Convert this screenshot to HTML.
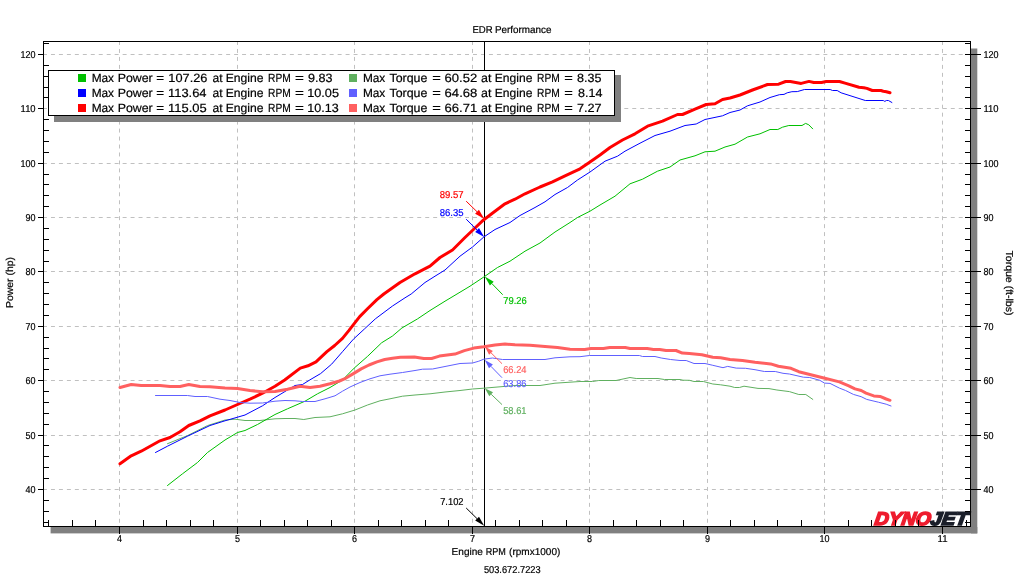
<!DOCTYPE html>
<html lang="en"><head><meta charset="utf-8"><title>EDR Performance</title>
<style>html,body{margin:0;padding:0;background:#fff;overflow:hidden}body{width:1024px;height:576px}svg{display:block}text{font-family:"Liberation Sans",sans-serif;fill:#000;stroke:#000;stroke-width:.2px;text-rendering:geometricPrecision}.s{font-size:10px}.l{font-size:12px}.ax{shape-rendering:crispEdges}.cv{fill:none;stroke-linejoin:round;stroke-linecap:round}</style></head><body>
<svg width="1024" height="576" viewBox="0 0 1024 576">
<rect width="1024" height="576" fill="#fff"/>
<g fill="#808080">
<rect x="50.6" y="527" width="926.7" height="6.4"/>
<rect x="971" y="48.5" width="6.3" height="484.9"/>
</g>
<g stroke="#c0c0c0" stroke-width="1" stroke-dasharray="3.98 3.983" fill="none">
<line x1="43" y1="489.5" x2="970" y2="489.5"/>
<line x1="43" y1="435.5" x2="970" y2="435.5"/>
<line x1="43" y1="380.5" x2="970" y2="380.5"/>
<line x1="43" y1="326.5" x2="970" y2="326.5"/>
<line x1="43" y1="271.5" x2="970" y2="271.5"/>
<line x1="43" y1="217.5" x2="970" y2="217.5"/>
<line x1="43" y1="163.5" x2="970" y2="163.5"/>
<line x1="43" y1="108.5" x2="970" y2="108.5"/>
<line x1="43" y1="54.5" x2="970" y2="54.5"/>
<line x1="119.5" y1="41" x2="119.5" y2="526"/>
<line x1="237.5" y1="41" x2="237.5" y2="526"/>
<line x1="354.5" y1="41" x2="354.5" y2="526"/>
<line x1="472.5" y1="41" x2="472.5" y2="526"/>
<line x1="589.5" y1="41" x2="589.5" y2="526"/>
<line x1="707.5" y1="41" x2="707.5" y2="526"/>
<line x1="824.5" y1="41" x2="824.5" y2="526"/>
<line x1="942.5" y1="41" x2="942.5" y2="526"/>
</g>
<g class="ax"><rect x="484" y="42" width="1" height="484" fill="#000"/></g>
<g class="cv">
<polyline stroke="#60b060" stroke-width="1" points="167.5,443.7 187.5,435.6 207.5,425.6 225.0,420.0 235.0,419.2 245.0,420.5 260.0,420.5 275.0,418.8 285.0,418.5 295.0,418.5 303.8,419.5 315.0,417.5 330.0,416.8 342.5,413.8 355.0,410.0 367.5,405.0 380.0,400.8 390.0,398.8 402.5,396.2 415.0,395.0 430.0,393.8 445.0,392.0 460.0,390.5 472.5,389.0 483.8,388.2 500.0,386.8 515.0,385.5 540.0,385.5 555.0,383.2 570.0,382.2 580.0,381.5 592.5,381.5 598.8,380.5 616.0,380.5 630.0,377.5 636.2,378.5 658.0,378.5 664.4,379.5 680.0,379.5 683.0,380.2 689.4,380.3 694.0,381.5 703.4,381.5 712.8,384.0 720.6,384.8 730.0,386.2 734.7,387.5 739.4,387.5 744.0,386.2 758.0,388.4 769.0,388.6 776.9,390.0 789.4,391.6 798.8,394.5 805.8,394.5 812.8,399.4"/>
<polyline stroke="#00c000" stroke-width="1" points="167.5,485.5 182.5,473.8 197.5,462.5 207.5,452.5 225.0,440.0 237.5,432.5 245.0,430.5 257.5,424.5 275.0,414.5 287.5,408.8 305.0,401.2 317.5,393.8 330.0,387.5 342.5,380.0 354.2,368.1 367.5,356.4 381.6,342.8 392.5,336.0 401.9,328.0 417.5,318.9 430.0,310.5 445.0,301.2 457.0,294.0 470.0,286.2 483.8,277.0 497.5,267.5 510.0,261.2 525.0,251.2 540.0,243.0 555.0,232.0 570.0,222.5 577.5,217.5 590.0,211.2 600.0,205.0 615.0,196.2 630.0,183.8 642.5,179.2 657.5,171.2 670.0,167.0 680.0,160.0 695.0,155.8 705.0,151.8 715.0,151.2 725.0,147.0 735.0,144.2 747.5,137.0 760.0,133.8 770.0,129.5 777.8,129.5 782.5,127.2 788.8,125.5 802.0,125.5 805.6,123.4 808.8,124.8 812.7,128.8"/>
<polyline stroke="#ff0000" stroke-width="3" points="120.0,463.8 131.2,455.8 141.2,451.2 160.0,440.8 170.0,437.5 180.0,431.8 188.8,425.5 200.0,420.8 210.0,415.8 225.0,410.0 237.5,404.5 250.0,399.2 262.5,393.2 275.0,386.2 284.7,380.0 300.3,368.1 308.0,365.8 316.0,361.9 326.9,351.7 334.7,345.5 342.5,338.4 348.8,330.6 354.2,323.6 359.7,316.6 367.5,308.8 376.9,299.7 383.8,294.0 400.0,282.5 415.0,273.8 430.0,266.2 440.0,257.5 452.5,250.0 465.0,237.5 475.0,228.0 483.8,219.7 495.0,211.2 505.0,203.8 515.0,199.2 525.0,193.8 540.0,187.0 552.5,181.8 565.0,175.8 580.0,168.8 590.0,162.0 600.0,155.0 610.0,147.5 622.5,140.0 635.0,133.8 647.5,126.2 662.5,121.2 677.5,114.5 682.5,114.5 695.0,109.2 706.2,104.5 715.0,103.8 722.5,99.5 730.0,98.0 740.0,95.0 752.5,90.0 767.5,84.5 778.6,84.2 785.6,81.5 790.3,81.5 801.2,83.4 809.0,81.4 813.8,82.5 821.5,82.5 826.2,81.5 839.5,81.5 845.0,83.1 859.0,87.3 863.8,87.7 866.9,88.4 872.3,90.5 880.9,90.5 883.3,91.2 886.4,91.7 890.0,92.8"/>
<polyline stroke="#0000ff" stroke-width="1" points="155.5,452.5 167.5,446.2 187.5,436.2 210.0,425.5 225.0,420.8 245.0,415.0 262.5,405.8 275.0,397.5 287.5,390.0 295.0,385.5 302.5,384.5 309.7,380.0 320.6,373.6 331.6,364.2 342.5,351.7 353.4,339.2 364.4,329.0 375.3,318.9 392.5,306.0 405.0,297.8 411.2,294.0 425.0,282.5 435.0,276.2 445.0,270.0 460.0,256.2 472.5,247.0 483.8,237.0 495.0,229.5 510.0,222.5 520.0,215.5 535.0,207.5 545.0,201.8 555.0,194.5 567.5,187.5 577.5,180.0 590.0,172.0 605.0,161.2 617.5,156.2 625.0,151.2 640.0,143.2 655.0,135.5 670.0,131.2 685.0,125.5 696.2,124.0 705.0,119.5 722.5,115.8 730.0,112.5 740.0,110.0 747.5,105.8 760.0,102.0 770.0,97.5 779.4,94.7 784.0,94.4 787.2,92.8 791.9,91.7 797.3,91.6 804.4,89.5 830.2,89.5 832.5,90.5 837.2,90.5 841.1,92.8 865.3,100.5 883.3,100.5 884.8,101.4 886.4,100.5 888.4,100.5 891.9,102.5"/>
<polyline stroke="#6060ff" stroke-width="1" points="155.5,395.5 187.5,395.5 195.0,396.5 207.5,396.5 220.0,399.2 230.0,400.5 240.0,402.5 250.0,403.2 262.5,403.0 275.0,401.2 285.0,400.5 295.0,400.8 302.5,401.5 315.0,401.5 325.0,398.8 335.0,395.8 342.5,391.2 350.0,387.0 360.0,382.5 370.0,378.8 380.0,375.8 390.0,374.2 402.5,372.5 415.0,370.5 422.5,369.2 432.5,369.0 445.0,366.5 460.0,363.5 472.5,363.0 478.8,361.2 483.8,359.2 492.5,358.0 502.5,359.5 545.0,359.5 555.0,357.8 570.0,356.8 580.0,356.7 589.4,355.5 639.4,355.5 642.5,356.5 655.0,356.5 661.2,358.0 670.6,359.5 680.0,360.5 686.2,360.5 694.0,363.5 705.0,363.5 712.8,365.3 723.0,367.7 727.7,366.4 736.2,368.1 745.6,368.3 755.0,369.7 764.4,371.5 775.3,371.5 783.0,373.3 789.4,374.0 803.4,377.2 809.7,377.5 819.8,380.3 824.5,383.1 830.0,383.4 839.4,388.1 845.6,390.5 853.4,394.4 861.2,396.7 866.7,399.4 878.4,402.2 886.2,404.2 891.0,406.0"/>
<polyline stroke="#ff6060" stroke-width="3" points="120.0,387.5 131.2,384.5 141.2,385.5 160.0,385.5 170.0,386.5 180.0,386.5 188.8,384.5 200.0,386.5 210.0,386.8 225.0,388.0 237.5,388.5 250.0,390.5 262.5,391.8 275.0,391.5 287.5,389.2 300.0,386.2 310.0,387.5 320.0,386.2 330.0,383.8 339.4,381.0 345.6,378.3 353.4,373.6 361.2,368.9 369.0,365.0 376.9,361.9 384.7,359.5 392.5,358.3 400.3,357.2 414.4,356.9 423.8,358.5 431.6,358.5 439.4,356.1 455.0,354.1 464.4,350.6 473.8,348.1 483.8,346.8 495.0,345.0 505.0,344.0 515.0,344.8 530.0,345.2 545.0,346.5 557.5,347.5 570.0,349.2 584.7,349.4 591.0,348.5 603.4,348.5 609.7,347.5 625.3,347.5 630.0,348.5 647.2,348.5 653.4,349.5 659.7,349.5 666.0,350.5 676.0,350.5 682.3,353.1 689.4,353.6 701.9,354.7 712.8,357.2 720.6,357.8 730.0,359.5 742.5,360.5 755.0,362.3 770.6,363.9 778.4,366.2 791.0,368.3 798.8,371.7 823.8,378.0 839.4,381.9 848.8,385.8 855.0,388.9 861.2,390.5 866.0,393.1 873.8,395.9 880.0,396.4 886.2,399.0 890.0,400.3"/>
</g>
<g font-weight="bold" font-style="italic" font-size="18.5px" transform="translate(874,525.3) skewX(-8)" stroke-linejoin="miter"><text x="0" y="0" textLength="56" lengthAdjust="spacingAndGlyphs" style="fill:#ee1c2e;stroke:#ee1c2e;stroke-width:1.7px">DYNO</text><text x="56" y="0" textLength="37" lengthAdjust="spacingAndGlyphs" style="fill:#1b1f2a;stroke:#1b1f2a;stroke-width:1.7px">JET</text></g>
<g class="ax" fill="#000">
<rect x="43" y="41" width="928" height="1"/>
<rect x="43" y="526" width="928" height="1"/>
<rect x="43" y="41" width="1" height="486"/>
<rect x="970" y="41" width="1" height="486"/>
<rect x="44" y="522" width="5" height="1"/>
<rect x="965" y="522" width="5" height="1"/>
<rect x="44" y="511" width="5" height="1"/>
<rect x="965" y="511" width="5" height="1"/>
<rect x="44" y="500" width="5" height="1"/>
<rect x="965" y="500" width="5" height="1"/>
<rect x="38" y="489" width="5" height="1"/>
<rect x="965" y="489" width="16" height="1"/>
<rect x="44" y="478" width="5" height="1"/>
<rect x="965" y="478" width="5" height="1"/>
<rect x="44" y="467" width="5" height="1"/>
<rect x="965" y="467" width="5" height="1"/>
<rect x="44" y="456" width="5" height="1"/>
<rect x="965" y="456" width="5" height="1"/>
<rect x="44" y="445" width="5" height="1"/>
<rect x="965" y="445" width="5" height="1"/>
<rect x="38" y="435" width="5" height="1"/>
<rect x="965" y="435" width="16" height="1"/>
<rect x="44" y="424" width="5" height="1"/>
<rect x="965" y="424" width="5" height="1"/>
<rect x="44" y="413" width="5" height="1"/>
<rect x="965" y="413" width="5" height="1"/>
<rect x="44" y="402" width="5" height="1"/>
<rect x="965" y="402" width="5" height="1"/>
<rect x="44" y="391" width="5" height="1"/>
<rect x="965" y="391" width="5" height="1"/>
<rect x="38" y="380" width="5" height="1"/>
<rect x="965" y="380" width="16" height="1"/>
<rect x="44" y="369" width="5" height="1"/>
<rect x="965" y="369" width="5" height="1"/>
<rect x="44" y="358" width="5" height="1"/>
<rect x="965" y="358" width="5" height="1"/>
<rect x="44" y="348" width="5" height="1"/>
<rect x="965" y="348" width="5" height="1"/>
<rect x="44" y="337" width="5" height="1"/>
<rect x="965" y="337" width="5" height="1"/>
<rect x="38" y="326" width="5" height="1"/>
<rect x="965" y="326" width="16" height="1"/>
<rect x="44" y="315" width="5" height="1"/>
<rect x="965" y="315" width="5" height="1"/>
<rect x="44" y="304" width="5" height="1"/>
<rect x="965" y="304" width="5" height="1"/>
<rect x="44" y="293" width="5" height="1"/>
<rect x="965" y="293" width="5" height="1"/>
<rect x="44" y="282" width="5" height="1"/>
<rect x="965" y="282" width="5" height="1"/>
<rect x="38" y="271" width="5" height="1"/>
<rect x="965" y="271" width="16" height="1"/>
<rect x="44" y="261" width="5" height="1"/>
<rect x="965" y="261" width="5" height="1"/>
<rect x="44" y="250" width="5" height="1"/>
<rect x="965" y="250" width="5" height="1"/>
<rect x="44" y="239" width="5" height="1"/>
<rect x="965" y="239" width="5" height="1"/>
<rect x="44" y="228" width="5" height="1"/>
<rect x="965" y="228" width="5" height="1"/>
<rect x="38" y="217" width="5" height="1"/>
<rect x="965" y="217" width="16" height="1"/>
<rect x="44" y="206" width="5" height="1"/>
<rect x="965" y="206" width="5" height="1"/>
<rect x="44" y="195" width="5" height="1"/>
<rect x="965" y="195" width="5" height="1"/>
<rect x="44" y="184" width="5" height="1"/>
<rect x="965" y="184" width="5" height="1"/>
<rect x="44" y="174" width="5" height="1"/>
<rect x="965" y="174" width="5" height="1"/>
<rect x="38" y="163" width="5" height="1"/>
<rect x="965" y="163" width="16" height="1"/>
<rect x="44" y="152" width="5" height="1"/>
<rect x="965" y="152" width="5" height="1"/>
<rect x="44" y="141" width="5" height="1"/>
<rect x="965" y="141" width="5" height="1"/>
<rect x="44" y="130" width="5" height="1"/>
<rect x="965" y="130" width="5" height="1"/>
<rect x="44" y="119" width="5" height="1"/>
<rect x="965" y="119" width="5" height="1"/>
<rect x="38" y="108" width="5" height="1"/>
<rect x="965" y="108" width="16" height="1"/>
<rect x="44" y="97" width="5" height="1"/>
<rect x="965" y="97" width="5" height="1"/>
<rect x="44" y="87" width="5" height="1"/>
<rect x="965" y="87" width="5" height="1"/>
<rect x="44" y="76" width="5" height="1"/>
<rect x="965" y="76" width="5" height="1"/>
<rect x="44" y="65" width="5" height="1"/>
<rect x="965" y="65" width="5" height="1"/>
<rect x="38" y="54" width="5" height="1"/>
<rect x="965" y="54" width="16" height="1"/>
<rect x="44" y="43" width="5" height="1"/>
<rect x="965" y="43" width="5" height="1"/>
<rect x="48" y="520" width="1" height="6"/>
<rect x="72" y="520" width="1" height="6"/>
<rect x="95" y="520" width="1" height="6"/>
<rect x="119" y="527" width="1" height="7"/>
<rect x="143" y="520" width="1" height="6"/>
<rect x="166" y="520" width="1" height="6"/>
<rect x="190" y="520" width="1" height="6"/>
<rect x="213" y="520" width="1" height="6"/>
<rect x="237" y="527" width="1" height="7"/>
<rect x="260" y="520" width="1" height="6"/>
<rect x="284" y="520" width="1" height="6"/>
<rect x="307" y="520" width="1" height="6"/>
<rect x="331" y="520" width="1" height="6"/>
<rect x="354" y="527" width="1" height="7"/>
<rect x="378" y="520" width="1" height="6"/>
<rect x="401" y="520" width="1" height="6"/>
<rect x="425" y="520" width="1" height="6"/>
<rect x="448" y="520" width="1" height="6"/>
<rect x="472" y="527" width="1" height="7"/>
<rect x="495" y="520" width="1" height="6"/>
<rect x="519" y="520" width="1" height="6"/>
<rect x="542" y="520" width="1" height="6"/>
<rect x="566" y="520" width="1" height="6"/>
<rect x="589" y="527" width="1" height="7"/>
<rect x="613" y="520" width="1" height="6"/>
<rect x="636" y="520" width="1" height="6"/>
<rect x="660" y="520" width="1" height="6"/>
<rect x="683" y="520" width="1" height="6"/>
<rect x="707" y="527" width="1" height="7"/>
<rect x="730" y="520" width="1" height="6"/>
<rect x="754" y="520" width="1" height="6"/>
<rect x="777" y="520" width="1" height="6"/>
<rect x="801" y="520" width="1" height="6"/>
<rect x="824" y="527" width="1" height="7"/>
<rect x="848" y="520" width="1" height="6"/>
<rect x="871" y="520" width="1" height="6"/>
<rect x="895" y="520" width="1" height="6"/>
<rect x="918" y="520" width="1" height="6"/>
<rect x="942" y="527" width="1" height="7"/>
<rect x="966" y="520" width="1" height="6"/>
</g>
<g class="s">
<text x="25.6" y="493.0" textLength="10" lengthAdjust="spacingAndGlyphs">40</text>
<text x="983.5" y="493.0" textLength="10" lengthAdjust="spacingAndGlyphs">40</text>
<text x="25.6" y="439.0" textLength="10" lengthAdjust="spacingAndGlyphs">50</text>
<text x="983.5" y="439.0" textLength="10" lengthAdjust="spacingAndGlyphs">50</text>
<text x="25.6" y="384.0" textLength="10" lengthAdjust="spacingAndGlyphs">60</text>
<text x="983.5" y="384.0" textLength="10" lengthAdjust="spacingAndGlyphs">60</text>
<text x="25.6" y="330.0" textLength="10" lengthAdjust="spacingAndGlyphs">70</text>
<text x="983.5" y="330.0" textLength="10" lengthAdjust="spacingAndGlyphs">70</text>
<text x="25.6" y="275.0" textLength="10" lengthAdjust="spacingAndGlyphs">80</text>
<text x="983.5" y="275.0" textLength="10" lengthAdjust="spacingAndGlyphs">80</text>
<text x="25.6" y="221.0" textLength="10" lengthAdjust="spacingAndGlyphs">90</text>
<text x="983.5" y="221.0" textLength="10" lengthAdjust="spacingAndGlyphs">90</text>
<text x="20.6" y="167.0" textLength="15" lengthAdjust="spacingAndGlyphs">100</text>
<text x="983.5" y="167.0" textLength="15" lengthAdjust="spacingAndGlyphs">100</text>
<text x="20.6" y="112.0" textLength="15" lengthAdjust="spacingAndGlyphs">110</text>
<text x="983.5" y="112.0" textLength="15" lengthAdjust="spacingAndGlyphs">110</text>
<text x="20.6" y="58.0" textLength="15" lengthAdjust="spacingAndGlyphs">120</text>
<text x="983.5" y="58.0" textLength="15" lengthAdjust="spacingAndGlyphs">120</text>
<text x="117.0" y="542" textLength="5" lengthAdjust="spacingAndGlyphs">4</text>
<text x="235.0" y="542" textLength="5" lengthAdjust="spacingAndGlyphs">5</text>
<text x="352.0" y="542" textLength="5" lengthAdjust="spacingAndGlyphs">6</text>
<text x="470.0" y="542" textLength="5" lengthAdjust="spacingAndGlyphs">7</text>
<text x="587.0" y="542" textLength="5" lengthAdjust="spacingAndGlyphs">8</text>
<text x="705.0" y="542" textLength="5" lengthAdjust="spacingAndGlyphs">9</text>
<text x="819.5" y="542" textLength="10" lengthAdjust="spacingAndGlyphs">10</text>
<text x="937.5" y="542" textLength="10" lengthAdjust="spacingAndGlyphs">11</text>
<text x="472.39" y="33" textLength="20.22" lengthAdjust="spacingAndGlyphs">EDR</text>
<text x="494.88" y="33" textLength="56.51" lengthAdjust="spacingAndGlyphs">Performance</text>
<text x="451.62" y="555" textLength="31.36" lengthAdjust="spacingAndGlyphs">Engine</text>
<text x="485.72" y="555" textLength="20.15" lengthAdjust="spacingAndGlyphs">RPM</text>
<text x="509.10" y="555" textLength="51.20" lengthAdjust="spacingAndGlyphs">(rpmx1000)</text>
<text x="483.88" y="573" textLength="56.74" lengthAdjust="spacingAndGlyphs">503.672.7223</text>
<text transform="translate(13,308) rotate(-90)" textLength="51" lengthAdjust="spacingAndGlyphs">Power (hp)</text>
<text transform="translate(1005.5,250.5) rotate(90)" textLength="65" lengthAdjust="spacingAndGlyphs">Torque (ft-lbs)</text>
</g>
<g class="s">
<line x1="466.2" y1="201.2" x2="477.0" y2="211.7" stroke="#ff0000" stroke-width="1"/><polygon points="484.2,218.7 475.1,213.7 478.9,209.8" fill="#ff0000"/>
<text x="439.7" y="198" textLength="23.8" lengthAdjust="spacingAndGlyphs" style="fill:#ff0000;stroke:#ff0000">89.57</text>
<line x1="466.2" y1="219.2" x2="477.1" y2="230.0" stroke="#0000ff" stroke-width="1"/><polygon points="484.2,237 475.2,231.9 479.0,228.0" fill="#0000ff"/>
<text x="439.7" y="216" textLength="23.8" lengthAdjust="spacingAndGlyphs" style="fill:#0000ff;stroke:#0000ff">86.35</text>
<line x1="502.7" y1="294.7" x2="491.8" y2="283.5" stroke="#00c000" stroke-width="1"/><polygon points="484.8,276.4 493.7,281.7 489.9,285.4" fill="#00c000"/>
<text x="503.3" y="304" textLength="23.5" lengthAdjust="spacingAndGlyphs" style="fill:#00c000;stroke:#00c000">79.26</text>
<line x1="502" y1="363.7" x2="491.0" y2="352.8" stroke="#ff6060" stroke-width="1"/><polygon points="484.8,346.6 492.9,350.9 489.1,354.7" fill="#ff6060"/>
<text x="503.2" y="373" textLength="23.3" lengthAdjust="spacingAndGlyphs" style="fill:#ff6060;stroke:#ff6060">66.24</text>
<line x1="502" y1="377.7" x2="490.9" y2="366.3" stroke="#6060ff" stroke-width="1"/><polygon points="484.8,360 492.9,364.4 489.0,368.2" fill="#6060ff"/>
<text x="503.2" y="387" textLength="23.3" lengthAdjust="spacingAndGlyphs" style="fill:#6060ff;stroke:#6060ff">63.86</text>
<line x1="502" y1="404.6" x2="491.2" y2="394.3" stroke="#60b060" stroke-width="1"/><polygon points="484.8,388.2 493.0,392.3 489.3,396.2" fill="#60b060"/>
<text x="503.2" y="414" textLength="23.3" lengthAdjust="spacingAndGlyphs" style="fill:#60b060;stroke:#60b060">58.61</text>
<line x1="466.2" y1="508" x2="477.1" y2="518.7" stroke="#000000" stroke-width="1"/><polygon points="484.2,525.7 475.2,520.6 479.0,516.8" fill="#000000"/>
<text x="440.2" y="505" textLength="23.3" lengthAdjust="spacingAndGlyphs">7.102</text>
</g>
<g class="ax">
<rect x="54" y="116" width="567" height="6" fill="#808080"/>
<rect x="615" y="75" width="6" height="47" fill="#808080"/>
<rect x="48.5" y="70.5" width="566" height="45" fill="#fff" stroke="#000" stroke-width="1"/>
<rect x="78" y="74" width="8" height="8" fill="#00c000"/>
<rect x="349" y="74" width="8" height="8" fill="#60b060"/>
<rect x="78" y="89" width="8" height="8" fill="#0000ff"/>
<rect x="349" y="89" width="8" height="8" fill="#6060ff"/>
<rect x="78" y="104" width="8" height="8" fill="#ff0000"/>
<rect x="349" y="104" width="8" height="8" fill="#ff6060"/>
</g>
<g class="l">
<text x="91.63" y="82" textLength="22.42" lengthAdjust="spacingAndGlyphs">Max</text>
<text x="117.70" y="82" textLength="35.03" lengthAdjust="spacingAndGlyphs">Power</text>
<text x="156.29" y="82" textLength="7.83" lengthAdjust="spacingAndGlyphs">=</text>
<text x="168.36" y="82" textLength="39.05" lengthAdjust="spacingAndGlyphs">107.26</text>
<text x="212.46" y="82" textLength="10.08" lengthAdjust="spacingAndGlyphs">at</text>
<text x="225.67" y="82" textLength="37.80" lengthAdjust="spacingAndGlyphs">Engine</text>
<text x="268.11" y="82" textLength="22.72" lengthAdjust="spacingAndGlyphs">RPM</text>
<text x="295.12" y="82" textLength="8.87" lengthAdjust="spacingAndGlyphs">=</text>
<text x="308.14" y="82" textLength="24.48" lengthAdjust="spacingAndGlyphs">9.83</text>
<text x="362.93" y="82" textLength="22.37" lengthAdjust="spacingAndGlyphs">Max</text>
<text x="389.51" y="82" textLength="37.92" lengthAdjust="spacingAndGlyphs">Torque</text>
<text x="432.33" y="82" textLength="8.56" lengthAdjust="spacingAndGlyphs">=</text>
<text x="444.59" y="82" textLength="32.67" lengthAdjust="spacingAndGlyphs">60.52</text>
<text x="481.08" y="82" textLength="10.38" lengthAdjust="spacingAndGlyphs">at</text>
<text x="494.78" y="82" textLength="37.63" lengthAdjust="spacingAndGlyphs">Engine</text>
<text x="537.11" y="82" textLength="22.72" lengthAdjust="spacingAndGlyphs">RPM</text>
<text x="564.33" y="82" textLength="8.55" lengthAdjust="spacingAndGlyphs">=</text>
<text x="577.09" y="82" textLength="24.39" lengthAdjust="spacingAndGlyphs">8.35</text>
<text x="91.63" y="97" textLength="22.42" lengthAdjust="spacingAndGlyphs">Max</text>
<text x="117.70" y="97" textLength="35.03" lengthAdjust="spacingAndGlyphs">Power</text>
<text x="156.29" y="97" textLength="7.83" lengthAdjust="spacingAndGlyphs">=</text>
<text x="168.01" y="97" textLength="38.56" lengthAdjust="spacingAndGlyphs">113.64</text>
<text x="212.46" y="97" textLength="10.08" lengthAdjust="spacingAndGlyphs">at</text>
<text x="225.67" y="97" textLength="37.80" lengthAdjust="spacingAndGlyphs">Engine</text>
<text x="268.11" y="97" textLength="22.72" lengthAdjust="spacingAndGlyphs">RPM</text>
<text x="295.12" y="97" textLength="8.87" lengthAdjust="spacingAndGlyphs">=</text>
<text x="307.20" y="97" textLength="31.75" lengthAdjust="spacingAndGlyphs">10.05</text>
<text x="362.93" y="97" textLength="22.37" lengthAdjust="spacingAndGlyphs">Max</text>
<text x="389.51" y="97" textLength="37.92" lengthAdjust="spacingAndGlyphs">Torque</text>
<text x="432.33" y="97" textLength="8.56" lengthAdjust="spacingAndGlyphs">=</text>
<text x="444.59" y="97" textLength="32.74" lengthAdjust="spacingAndGlyphs">64.68</text>
<text x="481.08" y="97" textLength="10.38" lengthAdjust="spacingAndGlyphs">at</text>
<text x="494.78" y="97" textLength="37.63" lengthAdjust="spacingAndGlyphs">Engine</text>
<text x="537.11" y="97" textLength="22.72" lengthAdjust="spacingAndGlyphs">RPM</text>
<text x="564.33" y="97" textLength="8.55" lengthAdjust="spacingAndGlyphs">=</text>
<text x="578.09" y="97" textLength="24.34" lengthAdjust="spacingAndGlyphs">8.14</text>
<text x="91.63" y="112" textLength="22.42" lengthAdjust="spacingAndGlyphs">Max</text>
<text x="117.70" y="112" textLength="35.03" lengthAdjust="spacingAndGlyphs">Power</text>
<text x="156.29" y="112" textLength="7.83" lengthAdjust="spacingAndGlyphs">=</text>
<text x="168.01" y="112" textLength="38.62" lengthAdjust="spacingAndGlyphs">115.05</text>
<text x="212.46" y="112" textLength="10.08" lengthAdjust="spacingAndGlyphs">at</text>
<text x="225.67" y="112" textLength="37.80" lengthAdjust="spacingAndGlyphs">Engine</text>
<text x="268.11" y="112" textLength="22.72" lengthAdjust="spacingAndGlyphs">RPM</text>
<text x="295.12" y="112" textLength="8.87" lengthAdjust="spacingAndGlyphs">=</text>
<text x="307.19" y="112" textLength="31.49" lengthAdjust="spacingAndGlyphs">10.13</text>
<text x="362.93" y="112" textLength="22.37" lengthAdjust="spacingAndGlyphs">Max</text>
<text x="389.51" y="112" textLength="37.92" lengthAdjust="spacingAndGlyphs">Torque</text>
<text x="432.33" y="112" textLength="8.56" lengthAdjust="spacingAndGlyphs">=</text>
<text x="444.59" y="112" textLength="32.63" lengthAdjust="spacingAndGlyphs">66.71</text>
<text x="481.08" y="112" textLength="10.38" lengthAdjust="spacingAndGlyphs">at</text>
<text x="494.78" y="112" textLength="37.63" lengthAdjust="spacingAndGlyphs">Engine</text>
<text x="537.11" y="112" textLength="22.72" lengthAdjust="spacingAndGlyphs">RPM</text>
<text x="564.33" y="112" textLength="8.55" lengthAdjust="spacingAndGlyphs">=</text>
<text x="576.92" y="112" textLength="24.78" lengthAdjust="spacingAndGlyphs">7.27</text>
</g>
</svg></body></html>
